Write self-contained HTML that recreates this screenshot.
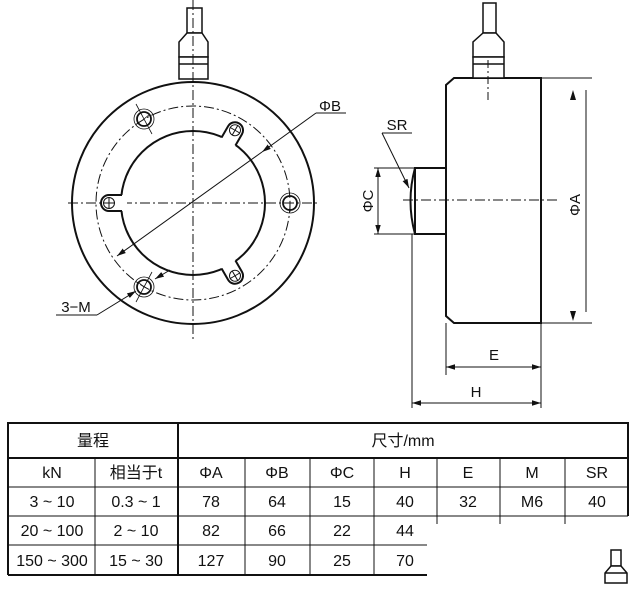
<!DOCTYPE html>
<html><head><meta charset="utf-8"><style>
body{margin:0;background:#fff;width:640px;height:589px;overflow:hidden}
svg{display:block}
text{font-family:"Liberation Sans","Noto Sans CJK SC",sans-serif;fill:#111}
</style></head><body>
<svg width="640" height="589" viewBox="0 0 640 589" xmlns="http://www.w3.org/2000/svg">
<defs>
<marker id="ar" viewBox="0 0 10 10" refX="10" refY="5" markerWidth="9" markerHeight="9" orient="auto-start-reverse" markerUnits="userSpaceOnUse"><path d="M0,2 L10,5 L0,8 z" fill="#111"/></marker>
</defs>
<g stroke="#111" fill="none">
<!-- front view -->
<circle cx="193" cy="203" r="121" stroke-width="2"/>
<circle cx="193" cy="203" r="97" stroke-width="1" stroke-dasharray="10,3,2,3"/>
<circle cx="193" cy="203" r="72" stroke-width="2"/>
<line x1="193" y1="0" x2="193" y2="340" stroke-width="1" stroke-dasharray="10,3,2,3"/>
<line x1="68" y1="203" x2="320" y2="203" stroke-width="1" stroke-dasharray="10,3,2,3"/>
<!-- lugs -->
<g transform="translate(193,203) rotate(180)">
<rect x="66" y="-8" width="16" height="16" fill="#fff" stroke="none"/>
<path d="M71,-8 L84,-8 A8,8 0 0 1 84,8 L71,8" stroke-width="2"/>
<circle cx="84" cy="0" r="5.5" stroke-width="1"/><path d="M78.5,0H89.5M84,-5.5V5.5" stroke-width="1"/></g>
<g transform="translate(193,203) rotate(-60)">
<rect x="66" y="-8" width="16" height="16" fill="#fff" stroke="none"/>
<path d="M71,-8 L84,-8 A8,8 0 0 1 84,8 L71,8" stroke-width="2"/>
<circle cx="84" cy="0" r="5.5" stroke-width="1"/><path d="M78.5,0H89.5M84,-5.5V5.5" stroke-width="1"/></g>
<g transform="translate(193,203) rotate(60)">
<rect x="66" y="-8" width="16" height="16" fill="#fff" stroke="none"/>
<path d="M71,-8 L84,-8 A8,8 0 0 1 84,8 L71,8" stroke-width="2"/>
<circle cx="84" cy="0" r="5.5" stroke-width="1"/><path d="M78.5,0H89.5M84,-5.5V5.5" stroke-width="1"/></g>
<!-- holes -->
<g stroke-width="1.8"><circle cx="290" cy="203" r="7"/><circle cx="144" cy="119" r="7"/><circle cx="144" cy="287" r="7"/></g>
<g stroke-width="0.8"><circle cx="290" cy="203" r="10"/><circle cx="144" cy="119" r="10"/><circle cx="144" cy="287" r="10"/>
<path d="M136,104 L152,134 M144,119 L150,114"/><path d="M136,302 L152,272 M144,287 L138,282"/><path d="M290,203 L290,212"/></g>
<!-- connector front -->
<g stroke-width="1.5" fill="#fff">
<rect x="187" y="8" width="15" height="25"/>
<path d="M187,33 L179,42 L179,57 L208,57 L208,42 L202,33 Z"/>
<rect x="179" y="57" width="29" height="22"/>
<line x1="179" y1="64" x2="208" y2="64"/>
</g>
<line x1="193" y1="0" x2="193" y2="80" stroke-width="1" stroke-dasharray="10,3,2,3"/>
<!-- ΦB dim -->
<line x1="316" y1="113" x2="262" y2="152" stroke-width="1" marker-end="url(#ar)"/>
<line x1="262" y1="152" x2="117" y2="256" stroke-width="1" marker-end="url(#ar)"/>
<line x1="316" y1="113" x2="346" y2="113" stroke-width="1"/>
<!-- 3-M -->
<line x1="56" y1="315" x2="97" y2="315" stroke-width="1"/>
<line x1="97" y1="315" x2="136" y2="291" stroke-width="1" marker-end="url(#ar)"/>
<line x1="170" y1="270" x2="155" y2="279" stroke-width="1" marker-end="url(#ar)"/>

<!-- side view -->
<path d="M454,78 L541,78 L541,323 L454,323 L446,316 L446,85 Z" stroke-width="2" fill="#fff"/>
<rect x="415" y="168" width="31" height="66" stroke-width="2"/>
<path d="M415,168 Q406,201 415,234" stroke-width="2"/>
<line x1="403" y1="200" x2="560" y2="200" stroke-width="1" stroke-dasharray="10,3,2,3"/>
<g stroke-width="1.5" fill="#fff">
<rect x="483" y="3" width="13" height="30"/>
<path d="M483,33 L473,42 L473,57 L504,57 L504,42 L496,33 Z"/>
<rect x="473" y="57" width="31" height="21"/>
<line x1="473" y1="64" x2="504" y2="64"/>
</g>
<line x1="488" y1="60" x2="488" y2="100" stroke-width="1" stroke-dasharray="8,3,2,3"/>
<!-- ΦA -->
<line x1="541" y1="78" x2="592" y2="78" stroke-width="1"/>
<line x1="541" y1="323" x2="592" y2="323" stroke-width="1"/>
<line x1="586" y1="90" x2="586" y2="312" stroke-width="1"/>
<path d="M573,90 L570,100 L576,100 Z M573,321 L570,311 L576,311 Z" fill="#111" stroke="none"/>
<!-- ΦC -->
<line x1="374" y1="168" x2="415" y2="168" stroke-width="1"/>
<line x1="374" y1="234" x2="415" y2="234" stroke-width="1"/>
<line x1="378" y1="180" x2="378" y2="168" stroke-width="1" marker-end="url(#ar)"/>
<line x1="378" y1="222" x2="378" y2="234" stroke-width="1" marker-end="url(#ar)"/>
<line x1="378" y1="180" x2="378" y2="222" stroke-width="1"/>
<!-- SR -->
<line x1="382" y1="133" x2="412" y2="133" stroke-width="1"/>
<line x1="382" y1="133" x2="409" y2="188" stroke-width="1" marker-end="url(#ar)"/>
<!-- E / H -->
<line x1="446" y1="323" x2="446" y2="375" stroke-width="1"/>
<line x1="541" y1="323" x2="541" y2="408" stroke-width="1"/>
<line x1="412" y1="234" x2="412" y2="408" stroke-width="1"/>
<line x1="446" y1="367" x2="541" y2="367" stroke-width="1" marker-start="url(#ar)" marker-end="url(#ar)"/>
<line x1="412" y1="403" x2="541" y2="403" stroke-width="1" marker-start="url(#ar)" marker-end="url(#ar)"/>

<!-- table -->
<g stroke-width="1">
<line x1="8" y1="487" x2="628" y2="487"/>
<line x1="8" y1="516" x2="628" y2="516"/>
<line x1="8" y1="545" x2="427" y2="545"/>
<line x1="95" y1="458" x2="95" y2="575"/>
<line x1="245" y1="458" x2="245" y2="575"/>
<line x1="310" y1="458" x2="310" y2="575"/>
<line x1="374" y1="458" x2="374" y2="575"/>
<line x1="437" y1="458" x2="437" y2="524"/>
<line x1="500" y1="458" x2="500" y2="524"/>
<line x1="565" y1="458" x2="565" y2="524"/>
</g>
<g stroke-width="2">
<path d="M8,575 L8,423 L628,423 L628,516"/>
<line x1="8" y1="575" x2="427" y2="575"/>
<line x1="8" y1="458" x2="628" y2="458"/>
<line x1="178" y1="423" x2="178" y2="575"/>
</g>
<!-- small icon -->
<g stroke-width="1.5" fill="#fff">
<rect x="611" y="550" width="10" height="16"/>
<path d="M611,566 L605,573 L605,583 L627,583 L627,573 L621,566 Z"/>
<line x1="605" y1="573" x2="627" y2="573"/>
</g>
</g>
<text x="330" y="111" font-size="15" text-anchor="middle">ΦB</text>
<text x="76" y="312" font-size="15" text-anchor="middle">3−M</text>
<text x="397" y="130" font-size="15" text-anchor="middle">SR</text>
<text x="494" y="360" font-size="15" text-anchor="middle">E</text>
<text x="476" y="397" font-size="15" text-anchor="middle">H</text>
<text font-size="15" text-anchor="middle" transform="translate(580,205) rotate(-90)">ΦA</text>
<text font-size="15" text-anchor="middle" transform="translate(373,201) rotate(-90)">ΦC</text>
<g font-size="16" text-anchor="middle">
<text x="93" y="446">量程</text>
<text x="403" y="446">尺寸/mm</text>
<text x="52" y="478">kN</text><text x="136" y="478">相当于t</text><text x="211" y="478">ΦA</text><text x="277" y="478">ΦB</text><text x="342" y="478">ΦC</text><text x="405" y="478">H</text><text x="468" y="478">E</text><text x="532" y="478">M</text><text x="597" y="478">SR</text>
<text x="52" y="507">3 ~ 10</text><text x="136" y="507">0.3 ~ 1</text><text x="211" y="507">78</text><text x="277" y="507">64</text><text x="342" y="507">15</text><text x="405" y="507">40</text><text x="468" y="507">32</text><text x="532" y="507">M6</text><text x="597" y="507">40</text>
<text x="52" y="536">20 ~ 100</text><text x="136" y="536">2 ~ 10</text><text x="211" y="536">82</text><text x="277" y="536">66</text><text x="342" y="536">22</text><text x="405" y="536">44</text>
<text x="52" y="566">150 ~ 300</text><text x="136" y="566">15 ~ 30</text><text x="211" y="566">127</text><text x="277" y="566">90</text><text x="342" y="566">25</text><text x="405" y="566">70</text>
</g>
</svg>
</body></html>
